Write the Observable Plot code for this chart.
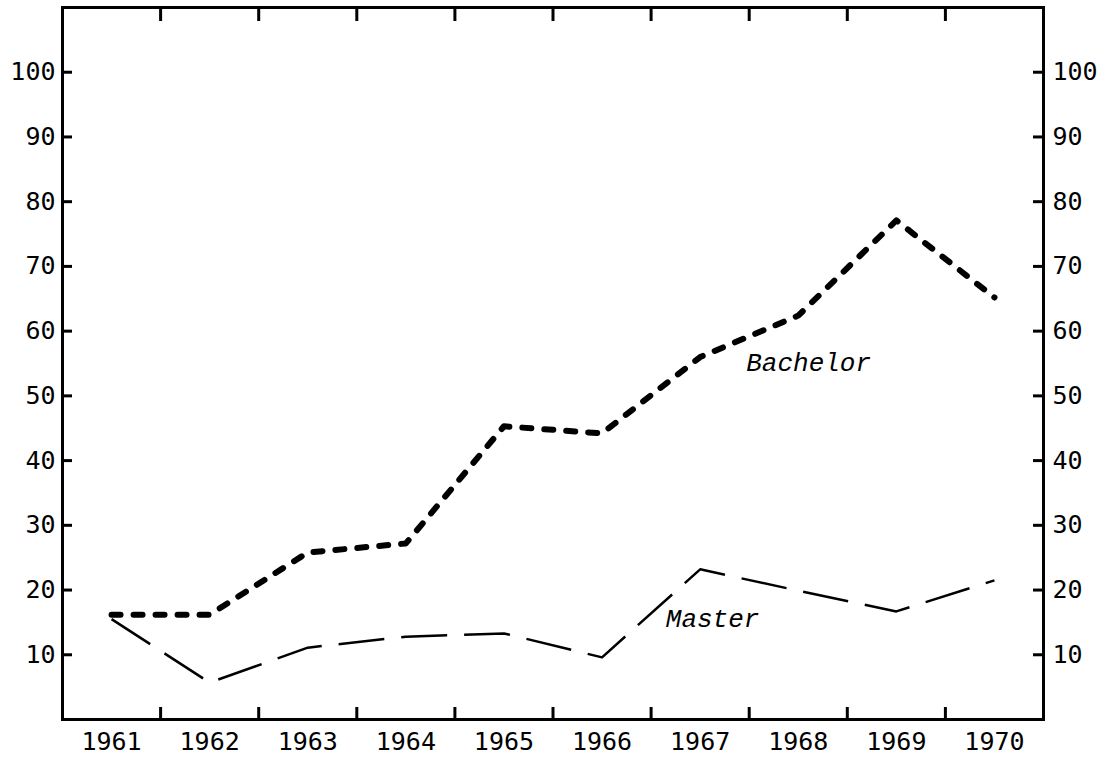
<!DOCTYPE html>
<html>
<head>
<meta charset="utf-8">
<script src="https://cdn.jsdelivr.net/npm/d3@7"></script>
<script src="https://cdn.jsdelivr.net/npm/@observablehq/plot@0.6"></script>
<style>
  html, body { margin: 0; padding: 0; background: #fff; }
</style>
</head>
<body>
<div id="chart"></div>
<script>
const years = [1961, 1962, 1963, 1964, 1965, 1966, 1967, 1968, 1969, 1970];
const bachelor = [16.2, 16.2, 25.8, 27.2, 45.3, 44.2, 56.0, 62.4, 77.1, 65.2];
const master = [15.5, 5.7, 11.1, 12.8, 13.3, 9.6, 23.2, 19.9, 16.7, 21.5];
const yTicks = [10, 20, 30, 40, 50, 60, 70, 80, 90, 100];
const xBoundaries = [1961.5, 1962.5, 1963.5, 1964.5, 1965.5, 1966.5, 1967.5, 1968.5, 1969.5];
const seriesLabels = ["Bachelor", "Master"];
const labelYears = [1967.47, 1966.65];
const labelValues = [55.2, 15.6];

const bachelorData = years.map((y, i) => ({year: y, value: bachelor[i]}));
const masterData = years.map((y, i) => ({year: y, value: master[i]}));
const labelData = seriesLabels.map((s, i) => ({label: s, year: labelYears[i], value: labelValues[i]}));

const W = 1116, H = 759;
const mL = 62, mR = 73, mT = 7, mB = 40;
const fw = W - mL - mR, fh = H - mT - mB;

const chart = Plot.plot({
  width: W,
  height: H,
  marginLeft: mL,
  marginRight: mR,
  marginTop: mT,
  marginBottom: mB,
  style: {fontFamily: "'DejaVu Sans Mono', monospace", fontSize: "25px", color: "#000", background: "#fff", overflow: "visible"},
  x: {domain: [1960.5, 1970.5], axis: null},
  y: {domain: [0, 110], axis: null},
  marks: [
    // masters line
    Plot.line(masterData, {x: "year", y: "value", stroke: "#000", strokeWidth: 2.5, strokeDasharray: "46,17", strokeLinecap: "butt"}),
    // bachelors line
    Plot.line(bachelorData, {x: "year", y: "value", stroke: "#000", strokeWidth: 6, strokeDasharray: "9,13", strokeLinecap: "round"}),
    // series labels
    Plot.text(labelData, {x: "year", y: "value", text: "label", textAnchor: "start", fontStyle: "italic", fontFamily: "'Liberation Mono', monospace", fontSize: 26, fill: "#000"}),
    // inward ticks
    Plot.tickY(yTicks, {y: d => d, stroke: "#000", strokeWidth: 3, insetRight: fw - 10}),
    Plot.tickY(yTicks, {y: d => d, stroke: "#000", strokeWidth: 3, insetLeft: fw - 10}),
    Plot.tickX(xBoundaries, {x: d => d, stroke: "#000", strokeWidth: 3, insetTop: fh - 12}),
    Plot.tickX(xBoundaries, {x: d => d, stroke: "#000", strokeWidth: 3, insetBottom: fh - 14}),
    // axis labels
    Plot.axisY(yTicks, {anchor: "left", tickSize: 0, tickPadding: 7, fontSize: 25, label: null}),
    Plot.axisY(yTicks, {anchor: "right", tickSize: 0, tickPadding: 9, fontSize: 25, label: null}),
    Plot.axisX(years, {anchor: "bottom", tickSize: 0, tickPadding: 13, fontSize: 25, label: null, tickFormat: d => String(d)}),
    Plot.frame({stroke: "#000", strokeWidth: 3})
  ]
});
document.getElementById("chart").appendChild(chart);
</script>
</body>
</html>
